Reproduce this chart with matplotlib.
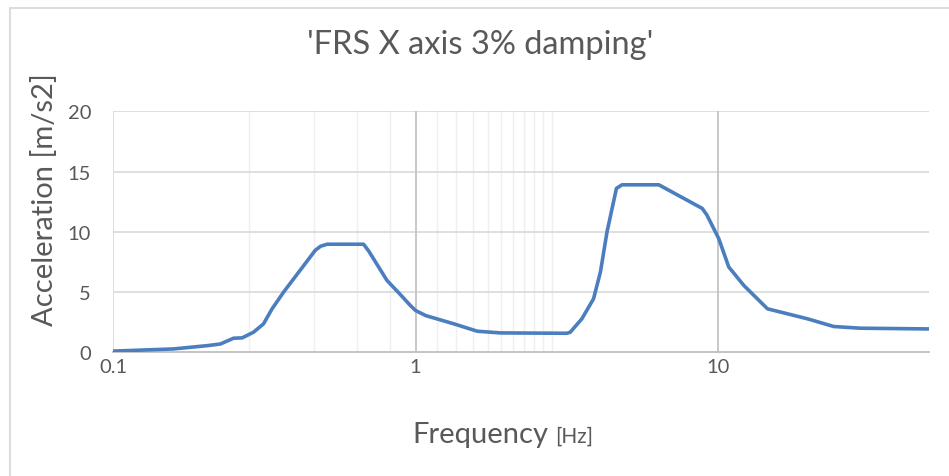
import matplotlib.pyplot as plt
from matplotlib.lines import Line2D

# FRS curve (frequency in Hz, acceleration in m/s2)
freq_hz = [0.1, 0.158, 0.204, 0.226, 0.25, 0.267, 0.291, 0.314, 0.335, 0.366,
           0.466, 0.485, 0.51, 0.673, 0.70, 0.804, 0.89, 0.96, 1.0, 1.08,
           1.34, 1.60, 1.91, 3.17, 3.25, 3.55, 3.88, 4.09, 4.30, 4.62,
           4.82, 6.38, 8.88, 9.2, 10.07, 10.87, 12.19, 14.6, 19.8, 24.2,
           29.7, 50.0]
accel = [0.1, 0.28, 0.55, 0.69, 1.17, 1.2, 1.67, 2.36, 3.6, 5.0,
         8.47, 8.8, 8.97, 8.97, 8.4, 5.97, 4.8, 3.9, 3.47, 3.05,
         2.36, 1.75, 1.61, 1.58, 1.67, 2.78, 4.44, 6.67, 10.0, 13.6,
         13.9, 13.9, 11.94, 11.4, 9.44, 7.08, 5.55, 3.61, 2.78, 2.14,
         2.0, 1.94]

x_ticks = [0.1, 1, 10]
x_ticklabels = ['0.1', '1', '10']
y_ticks = [0, 5, 10, 15, 20]
# faint vertical gridlines as they appear in the reference
minor_grid_hz = [0.282, 0.463, 0.640, 0.825,
                 1.18, 1.36, 1.55, 1.73, 1.91, 2.10, 2.28, 2.46, 2.64, 2.83]

plt.rcParams['font.family'] = ['Lato', 'DejaVu Sans']
txt = '#595959'

fig = plt.figure(figsize=(9.49, 4.77), dpi=100)
ax = fig.add_axes([0.1194, 0.2593, 0.979 - 0.1194, 0.7646 - 0.2593])

# gridlines
for f in minor_grid_hz:
    ax.axvline(f, color='#EFEFEF', lw=1.0, zorder=0)
for y in y_ticks[1:]:
    ax.axhline(y, color='#D9D9D9', lw=1.2, zorder=1)
ax.axvline(0.1, color='#D9D9D9', lw=1.2, zorder=1)
for f in [1, 10]:
    ax.axvline(f, color='#C4C4C4', lw=1.3, zorder=1)

ax.plot(freq_hz, accel, color='#4A7EBF', lw=2.6, solid_capstyle='round',
        solid_joinstyle='round', zorder=3)

ax.set_xscale('log')
ax.set_xlim(0.1, 50)
ax.set_ylim(0, 20)
ax.set_xticks(x_ticks)
ax.set_xticklabels(x_ticklabels)
ax.minorticks_off()
ax.set_yticks(y_ticks)
ax.tick_params(axis='both', length=0, labelsize=14.5, colors=txt)
ax.tick_params(axis='y', pad=16)
ax.tick_params(axis='x', pad=4)

for s in ['left', 'right', 'top']:
    ax.spines[s].set_visible(False)
ax.spines['bottom'].set_color('#BFBFBF')
ax.spines['bottom'].set_linewidth(1.3)
ax.spines['bottom'].set_zorder(2)

# titles and axis labels
fig.text(0.506, 0.906, "'FRS X axis 3% damping'", ha='center', va='center',
         fontsize=23.5, color=txt)
fig.text(0.047, 0.581, 'Acceleration [m/s2]', rotation=90, ha='center',
         va='center', fontsize=21, color=txt)
fig.text(0.435, 0.071, 'Frequency', ha='left', va='baseline', fontsize=21,
         color=txt)
fig.text(0.585, 0.071, '[Hz]', ha='left', va='baseline', fontsize=15,
         color=txt)

# chart frame edges visible in the screenshot
fig.add_artist(Line2D([0, 1], [0.999, 0.999], color='#DDDDDD', lw=1.5))
fig.add_artist(Line2D([0.011, 1], [0.982, 0.982], color='#DDDDDD', lw=1.5))
fig.add_artist(Line2D([0.011, 0.011], [0, 0.982], color='#DDDDDD', lw=1.5))

fig.savefig('out.png', dpi=100)
